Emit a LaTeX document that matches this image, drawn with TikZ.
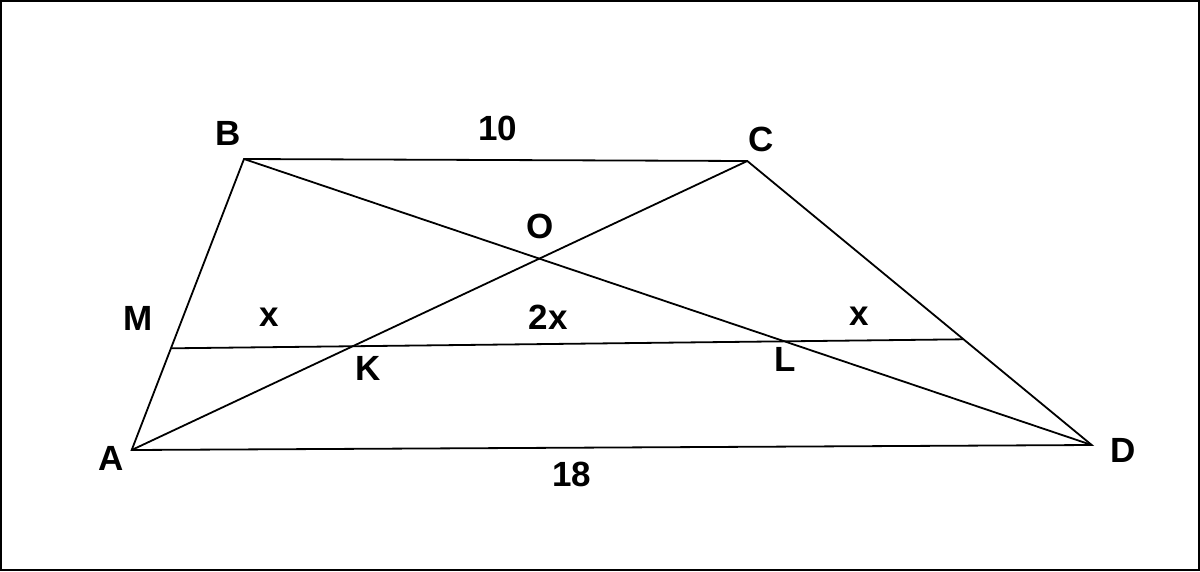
\documentclass[tikz,border=0pt]{standalone}
\usepackage{fontspec}
\setmainfont{Liberation Sans}
\begin{document}
\begin{tikzpicture}[x=1pt,y=-1pt,
  seg/.style={line width=1.8pt, line join=miter},
  lbl/.style={inner sep=0pt, font=\fontsize{35}{42}\selectfont\bfseries}]
\useasboundingbox (0,0) rectangle (1200,571);
\draw[line width=2.2pt] (1,1) rectangle (1199,570);
\coordinate (A) at (131.7,450);
\coordinate (B) at (244,159);
\coordinate (C) at (747.3,161);
\coordinate (D) at (1091.7,445);
\coordinate (M) at (171,348.3);
\coordinate (N) at (963.3,339.3);
\coordinate (K) at (intersection of A--C and M--N);
\coordinate (L) at (intersection of B--D and M--N);
\coordinate (O) at (intersection of A--C and B--D);
\draw[seg] (A) -- (B) -- (C) -- (D) -- cycle;
\draw[seg] (A) -- (C);
\draw[seg] (B) -- (D);
\draw[seg] (M) -- (N);
\node[lbl] (lB) at (228,133) {B};
\node[lbl] (l10) at (498,128) {10};
\node[lbl] (lC) at (761,139) {C};
\node[lbl] (lO) at (540.5,226) {O};
\node[lbl] (lM) at (138.5,318.5) {M};
\node[lbl] (lx1) at (269.5,317.5) {x};
\node[lbl] (l2x) at (548,317) {2x};
\node[lbl] (lx2) at (859.5,316.5) {x};
\node[lbl] (lK) at (368.5,368) {K};
\node[lbl] (lL) at (785,359) {L};
\node[lbl] (lA) at (111.5,458) {A};
\node[lbl] (l18) at (571.5,474.5) {18};
\node[lbl] (lD) at (1123.5,450.5) {D};
\end{tikzpicture}
\end{document}
